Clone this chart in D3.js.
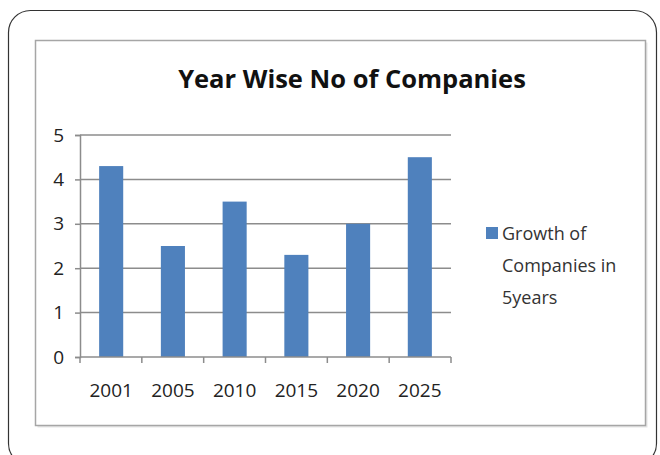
<html>
<script src="https://d3js.org/d3.v7.min.js"></script>
<style>
  body { margin: 0; background: #fff; }
  text { font-family: "Open Sans", "Noto Sans", sans-serif; }
</style>
<body>
<div id="chart"></div>
<script>
const years = ["2001", "2005", "2010", "2015", "2020", "2025"];
const companies = [4.3, 2.5, 3.5, 2.3, 3.0, 4.5];
const yTicks = [0, 1, 2, 3, 4, 5];
const legendLines = ["Growth of", "Companies in", "5years"];

const W = 660, H = 455;
const svg = d3.select("#chart").append("svg")
  .attr("width", W).attr("height", H);

// outer rounded frame
svg.append("rect")
  .attr("x", 8.5).attr("y", 10.5)
  .attr("width", 648).attr("height", 455)
  .attr("rx", 22)
  .attr("fill", "none").attr("stroke", "#333").attr("stroke-width", 1.2);

// chart area box (light shadow + border)
svg.append("rect")
  .attr("x", 37.5).attr("y", 42.5)
  .attr("width", 610).attr("height", 385)
  .attr("fill", "#e6e6e6");
svg.append("rect")
  .attr("x", 35.5).attr("y", 40.5)
  .attr("width", 610).attr("height", 385)
  .attr("fill", "#fff").attr("stroke", "#a6a6a6").attr("stroke-width", 1.5);

svg.append("text")
  .attr("x", 352).attr("y", 88)
  .attr("text-anchor", "middle")
  .attr("font-size", 25.5).attr("font-weight", 700)
  .attr("fill", "#111")
  .text("Year Wise No of Companies");

const pLeft = 80, pRight = 451, pTop = 135, pBottom = 357;

const x = d3.scaleBand().domain(years).range([pLeft, pRight]).paddingInner(0.61).paddingOuter(0.31);
const y = d3.scaleLinear().domain([0, 5]).range([pBottom, pTop]);

// gridlines
svg.append("g")
  .selectAll("line")
  .data(yTicks.slice(1))
  .enter().append("line")
  .attr("x1", pLeft).attr("x2", pRight)
  .attr("y1", d => y(d)).attr("y2", d => y(d))
  .attr("stroke", "#8c8c8c").attr("stroke-width", 1.5);

// bars
svg.append("g")
  .selectAll("rect")
  .data(companies)
  .enter().append("rect")
  .attr("x", (d, i) => x(years[i]))
  .attr("width", x.bandwidth())
  .attr("y", d => y(d))
  .attr("height", d => pBottom - y(d))
  .attr("fill", "#4f81bd");

// y axis
const yAxis = svg.append("g")
  .attr("transform", `translate(${pLeft},0)`)
  .call(d3.axisLeft(y).tickValues(yTicks).tickSize(5).tickPadding(10).tickFormat(d3.format("d")));
yAxis.select(".domain").attr("stroke", "#8c8c8c").attr("stroke-width", 1.5);
yAxis.selectAll(".tick line").attr("stroke", "#8c8c8c").attr("stroke-width", 1.5);
yAxis.selectAll("text").attr("font-size", 19).attr("fill", "#222").attr("dx", "-1");

// x axis: ticks between categories
const xb = d3.scaleLinear().domain([0, years.length]).range([pLeft, pRight]);
svg.append("line")
  .attr("x1", pLeft).attr("x2", pRight)
  .attr("y1", pBottom).attr("y2", pBottom)
  .attr("stroke", "#8c8c8c").attr("stroke-width", 1.5);
svg.append("g")
  .selectAll("line")
  .data(d3.range(years.length + 1))
  .enter().append("line")
  .attr("x1", d => xb(d)).attr("x2", d => xb(d))
  .attr("y1", pBottom).attr("y2", pBottom + 6)
  .attr("stroke", "#8c8c8c").attr("stroke-width", 1.5);
svg.append("g")
  .selectAll("text")
  .data(years)
  .enter().append("text")
  .attr("x", d => x(d) + x.bandwidth() / 2)
  .attr("y", 397)
  .attr("text-anchor", "middle")
  .attr("font-size", 19).attr("fill", "#222")
  .text(d => d);

// legend
svg.append("rect")
  .attr("x", 486).attr("y", 227).attr("width", 12).attr("height", 12)
  .attr("fill", "#4f81bd");
svg.append("g")
  .selectAll("text")
  .data(legendLines)
  .enter().append("text")
  .attr("x", 502)
  .attr("y", (d, i) => 240 + i * 32)
  .attr("font-size", 18).attr("fill", "#333")
  .text(d => d);
</script>
</body>
</html>
